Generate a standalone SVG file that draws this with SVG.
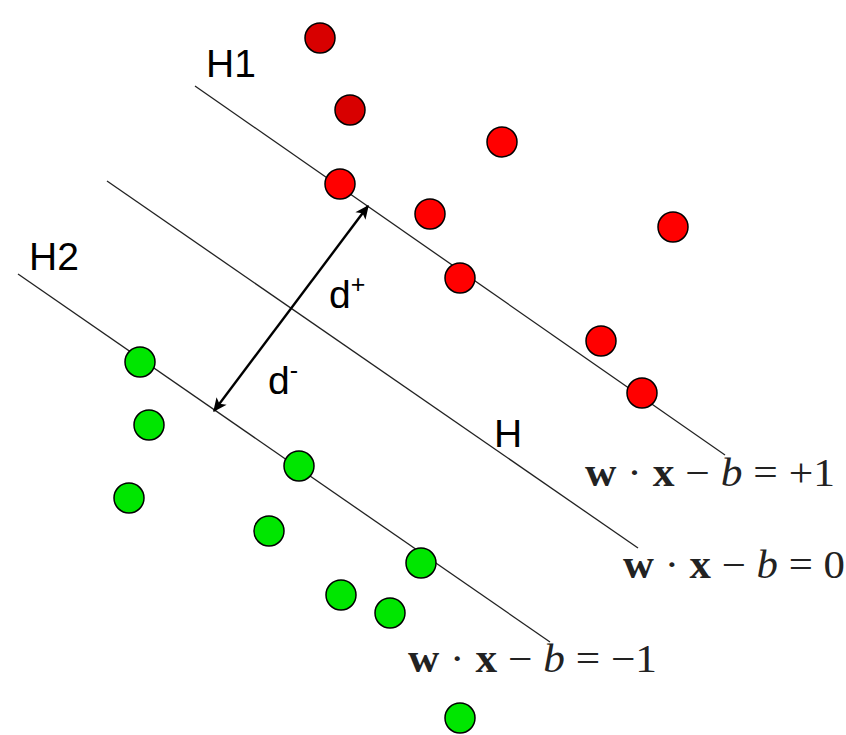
<svg xmlns="http://www.w3.org/2000/svg" width="846" height="735" viewBox="0 0 846 735">
<style>
.ln{stroke:#222;stroke-width:1.3;fill:none}
.ar{stroke:#000;stroke-width:2.4;fill:none}
.lbl{font-family:"Liberation Sans",Arial,sans-serif;font-size:39px;fill:#000}
.eq{font-family:"Liberation Serif","Times New Roman",serif;font-size:39px;fill:#222}
.bw{font-weight:bold}
.it{font-style:italic}
.r{fill:#ff0000;stroke:#000;stroke-width:1.5}
.rd{fill:#d80000;stroke:#000;stroke-width:1.5}
.g{fill:#00e600;stroke:#000;stroke-width:1.5}
</style>
<defs>
<marker id="ah" viewBox="0 0 10 10" refX="9" refY="5" markerWidth="16" markerHeight="14" orient="auto-start-reverse" markerUnits="userSpaceOnUse">
<path d="M0,0.5 L10,5 L0,9.5 L2.5,5 z" fill="#000"/>
</marker>
</defs>
<rect width="846" height="735" fill="#fff"/>
<g id="connectors">
<line id="H1-line" class="ln" x1="195" y1="86" x2="725" y2="455"/>
<line id="H-line" class="ln" x1="107" y1="181" x2="638" y2="548"/>
<line id="H2-line" class="ln" x1="18" y1="274" x2="550" y2="642"/>
<line id="margin-arrow" class="ar" x1="214" y1="411" x2="368" y2="206" marker-start="url(#ah)" marker-end="url(#ah)"/>
</g>
<g id="labels">
<text class="lbl" x="206" y="77">H1</text>
<text class="lbl" x="29" y="270">H2</text>
<text class="lbl" x="494" y="447">H</text>
<text class="lbl" x="329" y="308">d<tspan font-size="25" dy="-15">+</tspan></text>
<text class="lbl" x="268" y="394">d<tspan font-size="25" dy="-15">-</tspan></text>
</g>
<g id="equations">
<text class="eq" x="585" y="486" textLength="250" lengthAdjust="spacingAndGlyphs"><tspan class="bw">w</tspan> · <tspan class="bw">x</tspan> − <tspan class="it">b</tspan> = +1</text>
<text class="eq" x="623" y="578" textLength="222" lengthAdjust="spacingAndGlyphs"><tspan class="bw">w</tspan> · <tspan class="bw">x</tspan> − <tspan class="it">b</tspan> = 0</text>
<text class="eq" x="408" y="672" textLength="249" lengthAdjust="spacingAndGlyphs"><tspan class="bw">w</tspan> · <tspan class="bw">x</tspan> − <tspan class="it">b</tspan> = −1</text>
</g>
<g id="red-points">
<circle id="r1" class="rd" cx="320" cy="38" r="15"/>
<circle id="r2" class="rd" cx="350" cy="110" r="15"/>
<circle id="r3" class="r" cx="502" cy="142" r="15"/>
<circle id="r4" class="r" cx="340" cy="184" r="15"/>
<circle id="r5" class="r" cx="430" cy="214" r="15"/>
<circle id="r6" class="r" cx="673" cy="227" r="15"/>
<circle id="r7" class="r" cx="460" cy="278" r="15"/>
<circle id="r8" class="r" cx="601" cy="341" r="15"/>
<circle id="r9" class="r" cx="642" cy="393" r="15"/>
</g>
<g id="green-points">
<circle id="g1" class="g" cx="140" cy="362" r="15"/>
<circle id="g2" class="g" cx="149" cy="425" r="15"/>
<circle id="g3" class="g" cx="129" cy="498" r="15"/>
<circle id="g4" class="g" cx="299" cy="466" r="15"/>
<circle id="g5" class="g" cx="269" cy="531" r="15"/>
<circle id="g6" class="g" cx="421" cy="563" r="15"/>
<circle id="g7" class="g" cx="341" cy="595" r="15"/>
<circle id="g8" class="g" cx="390" cy="613" r="15"/>
<circle id="g9" class="g" cx="460" cy="718" r="15"/>
</g>
</svg>
